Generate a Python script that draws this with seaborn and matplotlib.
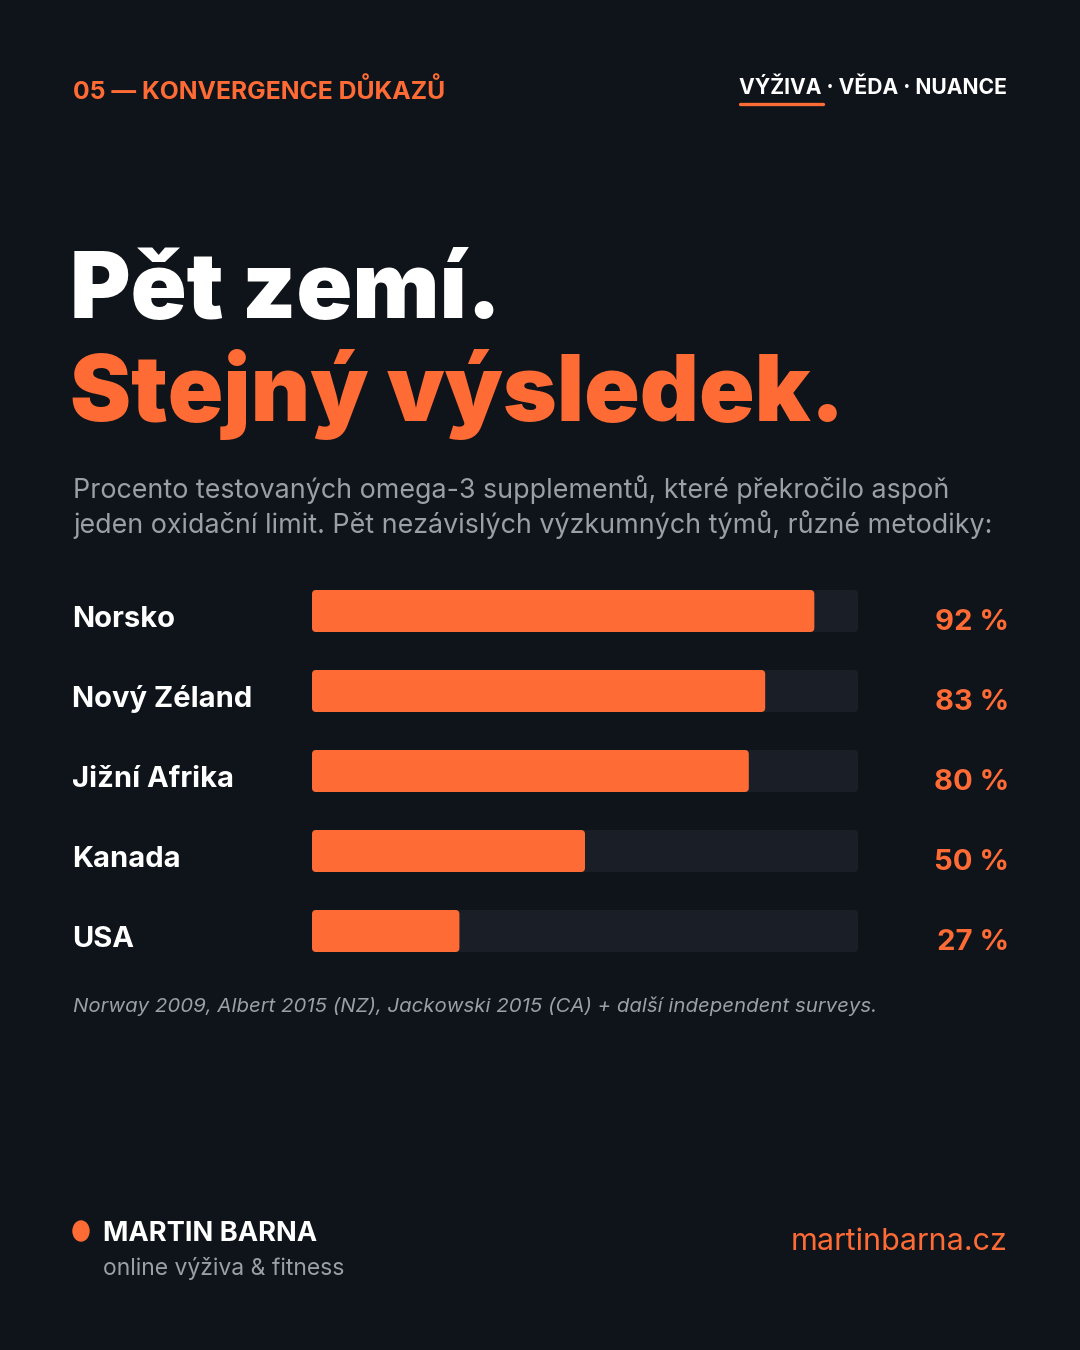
import matplotlib
matplotlib.use("Agg")
import matplotlib.pyplot as plt
import seaborn as sns
import pandas as pd
from matplotlib.patches import FancyBboxPatch

countries = ["Norsko", "Nový Zéland", "Jižní Afrika", "Kanada", "USA"]
values = [92, 83, 80, 50, 27]
value_labels = ["92 %", "83 %", "80 %", "50 %", "27 %"]
track = [100, 100, 100, 100, 100]

BG = "#0f131a"
ORANGE = "#ff6b35"
TRACK = "#1a1f27"
GRAY = "#9aa0a8"
WHITE = "#ffffff"
FONT = "Inter"

sns.set_theme(style="white")
plt.rcParams["font.family"] = [FONT, "DejaVu Sans"]

df = pd.DataFrame({"country": countries, "value": values, "track": track})

fig = plt.figure(figsize=(10.8, 13.5), dpi=100, facecolor=BG)
W, H = 1080, 1350

# axes: x from 312 to 858 px, rows centred 611..931 (80 px apart)
ax = fig.add_axes([312 / W, 1 - 971 / H, 546 / W, 400 / H])
ax.set_facecolor(BG)

sns.barplot(data=df, x="track", y="country", color=TRACK, width=0.525,
            saturation=1, ax=ax, orient="h")
sns.barplot(data=df, x="value", y="country", color=ORANGE, width=0.525,
            saturation=1, ax=ax, orient="h")

ax.set_xlim(0, 100)
ax.set_ylim(4.5, -0.5)

# round the bar corners
px_x = 546 / 100
px_y = 80
for p in list(ax.patches):
    x0, y0 = p.get_x(), p.get_y()
    w, h = p.get_width(), p.get_height()
    fc = p.get_facecolor()
    p.remove()
    ax.add_patch(FancyBboxPatch((x0, y0), w, h,
                                boxstyle="round,pad=0,rounding_size=0.75",
                                mutation_aspect=px_x / px_y,
                                facecolor=fc, edgecolor="none", zorder=2))

ax.set_xticks([])
ax.set_yticks([])
ax.set_xlabel("")
ax.set_ylabel("")
sns.despine(ax=ax, left=True, bottom=True)

tr = ax.get_yaxis_transform()
for i, (c, lab) in enumerate(zip(countries, value_labels)):
    ax.text(-240 / 546, i + 0.2, c, transform=tr, ha="left", va="baseline",
            color=WHITE, fontsize=21, fontweight="bold", clip_on=False)
    ax.text(697 / 546, i + 0.24, lab, transform=tr, ha="right", va="baseline",
            color=ORANGE, fontsize=21, fontweight="bold", clip_on=False)

def fy(y):
    return 1 - y / H

def fx(x):
    return x / W

# header
fig.text(fx(73), fy(91), "05 — KONVERGENCE DŮKAZŮ", color=ORANGE,
         fontsize=17.8, fontweight="bold", ha="left", va="center")
fig.text(fx(1007), fy(88), "VÝŽIVA · VĚDA · NUANCE", color=WHITE,
         fontsize=15.2, fontweight="bold", ha="right", va="center")
fig.add_artist(plt.Line2D([fx(740), fx(823)], [fy(104), fy(104)],
                          color=ORANGE, linewidth=2.4))

# title
fig.text(fx(70), fy(318), "Pět zemí.", color=WHITE, fontsize=66.5,
         fontweight="black", ha="left", va="baseline")
fig.text(fx(70), fy(421), "Stejný výsledek.", color=ORANGE, fontsize=66,
         fontweight="black", ha="left", va="baseline")

# subtitle
fig.text(fx(73), fy(489), "Procento testovaných omega-3 supplementů, které překročilo aspoň",
         color=GRAY, fontsize=19.3, ha="left", va="center")
fig.text(fx(73), fy(525), "jeden oxidační limit. Pět nezávislých výzkumných týmů, různé metodiky:",
         color=GRAY, fontsize=19.3, ha="left", va="center")

# footnote
fig.text(fx(73), fy(1006),
         "Norway 2009, Albert 2015 (NZ), Jackowski 2015 (CA) + další independent surveys.",
         color=GRAY, fontsize=14.7, style="italic", ha="left", va="center")

# footer
fig.add_artist(plt.Circle((fx(81), fy(1231)), 8 / W, color=ORANGE,
                          transform=fig.transFigure))
fig.text(fx(103), fy(1234), "MARTIN BARNA", color=WHITE, fontsize=19.7,
         fontweight="bold", ha="left", va="center")
fig.text(fx(103), fy(1268), "online výživa & fitness", color=GRAY, fontsize=16.5,
         ha="left", va="center")
fig.text(fx(1007), fy(1242), "martinbarna.cz", color=ORANGE, fontsize=22,
         ha="right", va="center")

fig.savefig("out.png", dpi=100, facecolor=BG)
